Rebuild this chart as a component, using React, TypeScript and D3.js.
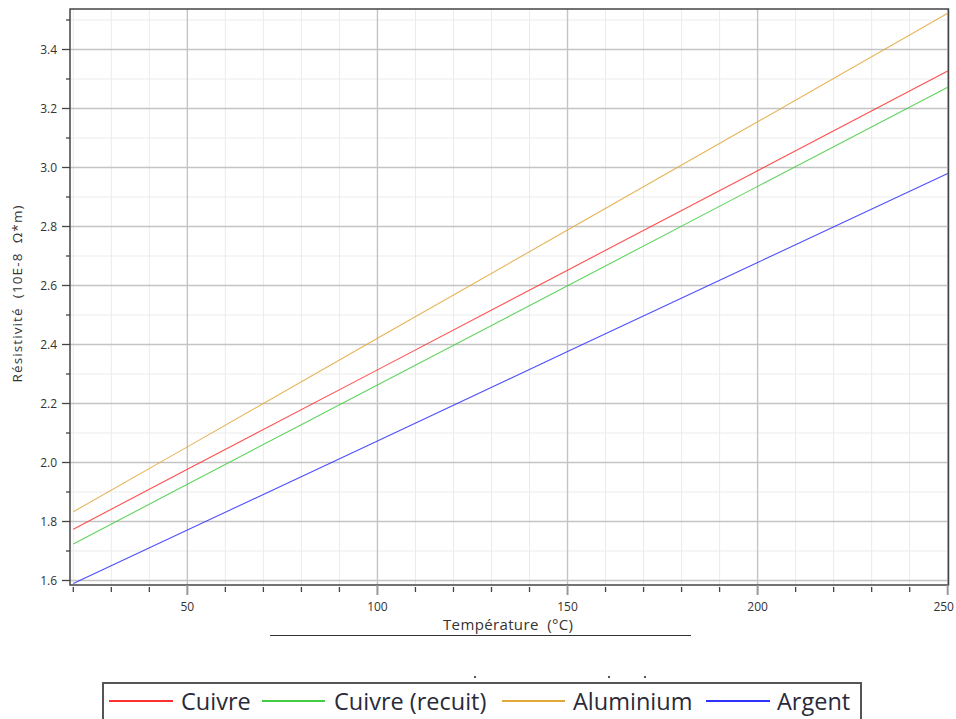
import React from "react";
import * as d3 from "d3";

const temperatures = [20, 50, 100, 150, 200, 250];
const cuivre = [1.774, 1.977, 2.314, 2.652, 2.989, 3.327];
const cuivreRecuit = [1.724, 1.926, 2.263, 2.599, 2.936, 3.272];
const aluminium = [1.833, 2.053, 2.421, 2.788, 3.155, 3.523];
const argent = [1.59, 1.771, 2.073, 2.376, 2.678, 2.98];

const seriesNames = ["Cuivre", "Cuivre (recuit)", "Aluminium", "Argent"];
const seriesColors = ["#ff3030", "#44cc44", "#e2a83a", "#3030ff"];
const seriesValues = [cuivre, cuivreRecuit, aluminium, argent];

const xMajorTicks = [50, 100, 150, 200, 250];
const yMajorTicks = [1.6, 1.8, 2.0, 2.2, 2.4, 2.6, 2.8, 3.0, 3.2, 3.4];

const xTitle = "Température  (°C)";
const yTitle = "Résistivité  (10E-8  Ω*m)";

const FONT = "'Open Sans', 'Noto Sans', sans-serif";

export default function App() {
  const W = 956;
  const H = 719;
  const plot = { left: 70, right: 948.5, top: 9, bottom: 585 };
  const x = d3.scaleLinear().domain([20, 250]).range([73.3, 947.7]);
  const y = d3.scaleLinear().domain([1.6, 3.4]).range([580.5, 49.5]);

  const xMinor = d3.range(20, 251, 10);
  const yMinor = d3.range(16, 36, 1).map((v) => v / 10);

  const line = d3
    .line<[number, number]>()
    .x((d) => x(d[0]))
    .y((d) => y(d[1]));

  const legendItems = [
    { lx1: 109, lx2: 173, tx: 181 },
    { lx1: 262, lx2: 325, tx: 334 },
    { lx1: 502, lx2: 565, tx: 573 },
    { lx1: 706, lx2: 770, tx: 777 },
  ];

  return (
    <svg
      width={W}
      height={H}
      style={{ position: "absolute", left: 0, top: 0, background: "#fff" }}
    >
      <rect x={0} y={0} width={W} height={H} fill="#fff" />
      {/* minor grid */}
      {xMinor
        .filter((v) => v % 50 !== 0)
        .map((v) => (
          <line
            key={"xg" + v}
            x1={x(v)}
            x2={x(v)}
            y1={plot.top}
            y2={plot.bottom}
            stroke="#ebebeb"
            strokeWidth={1}
          />
        ))}
      {yMinor
        .filter((v) => Math.round(v * 10) % 2 === 1)
        .map((v) => (
          <line
            key={"yg" + v}
            x1={plot.left}
            x2={plot.right}
            y1={y(v)}
            y2={y(v)}
            stroke="#ebebeb"
            strokeWidth={1}
          />
        ))}
      {/* major grid */}
      {xMajorTicks.map((v) => (
        <line
          key={"xM" + v}
          x1={x(v)}
          x2={x(v)}
          y1={plot.top}
          y2={plot.bottom}
          stroke="#c4c4c4"
          strokeWidth={1.4}
        />
      ))}
      {yMajorTicks.map((v) => (
        <line
          key={"yM" + v}
          x1={plot.left}
          x2={plot.right}
          y1={y(v)}
          y2={y(v)}
          stroke="#c4c4c4"
          strokeWidth={1.4}
        />
      ))}
      {/* series */}
      {seriesValues.map((vals, i) => (
        <path
          key={seriesNames[i]}
          d={line(temperatures.map((t, j) => [t, vals[j]] as [number, number])) || ""}
          fill="none"
          stroke={seriesColors[i]}
          strokeWidth={1.1}
          opacity={0.85}
        />
      ))}
      {/* frame */}
      <rect
        x={plot.left}
        y={plot.top}
        width={plot.right - plot.left}
        height={plot.bottom - plot.top}
        fill="none"
        stroke="#444"
        strokeWidth={1.5}
      />
      {/* x ticks */}
      {xMinor.map((v) => {
        const major = v % 50 === 0;
        return (
          <line
            key={"xt" + v}
            x1={x(v)}
            x2={x(v)}
            y1={major ? plot.bottom : plot.bottom + 2}
            y2={major ? plot.bottom + 10 : plot.bottom + 7}
            stroke={major ? "#999" : "#444"}
            strokeWidth={major ? 2 : 1.3}
          />
        );
      })}
      {xMajorTicks.map((v) => (
        <text
          key={"xl" + v}
          x={v === 250 ? x(v) - 4 : x(v)}
          y={611}
          textAnchor="middle"
          fontFamily={FONT}
          fontSize={12}
          fill="#333"
        >
          {v}
        </text>
      ))}
      {/* y ticks */}
      {yMinor.map((v) => {
        const major = Math.round(v * 10) % 2 === 0;
        return (
          <line
            key={"yt" + v}
            x1={major ? plot.left - 8 : plot.left - 4}
            x2={plot.left}
            y1={y(v)}
            y2={y(v)}
            stroke="#444"
            strokeWidth={1.3}
          />
        );
      })}
      {yMajorTicks.map((v) => (
        <text
          key={"yl" + v}
          x={57}
          y={y(v)}
          dy="0.35em"
          textAnchor="end"
          fontFamily={FONT}
          fontSize={12}
          fill="#333"
        >
          {d3.format(".1f")(v)}
        </text>
      ))}
      {/* axis titles */}
      <text
        x={508}
        y={630}
        textAnchor="middle"
        fontFamily={FONT}
        fontSize={15}
        fill="#333"
        textLength={130}
        lengthAdjust="spacing"
        style={{ whiteSpace: "pre" }}
      >
        {xTitle}
      </text>
      <line x1={270} x2={691} y1={635.5} y2={635.5} stroke="#333" strokeWidth={1.2} />
      <text
        transform="translate(22,294) rotate(-90)"
        textAnchor="middle"
        fontFamily={FONT}
        fontSize={13.5}
        fill="#333"
        textLength={177}
        lengthAdjust="spacing"
        style={{ whiteSpace: "pre" }}
      >
        {yTitle}
      </text>
      {/* small artifacts */}
      <rect x={474} y={676} width={2} height={2} fill="#555" />
      <rect x={608} y={676} width={2} height={2} fill="#555" />
      <rect x={644} y={676} width={2} height={2} fill="#555" />
      {/* legend */}
      <rect x={103} y={683} width={758} height={50} fill="#fff" stroke="#555" strokeWidth={2} />
      {seriesNames.map((name, i) => (
        <g key={"lg" + name}>
          <line
            x1={legendItems[i].lx1}
            x2={legendItems[i].lx2}
            y1={701}
            y2={701}
            stroke={seriesColors[i]}
            strokeWidth={2}
          />
          <text
            x={legendItems[i].tx}
            y={710}
            fontFamily={FONT}
            fontSize={23.5}
            fill="#2a2a3a"
          >
            {name}
          </text>
        </g>
      ))}
    </svg>
  );
}
